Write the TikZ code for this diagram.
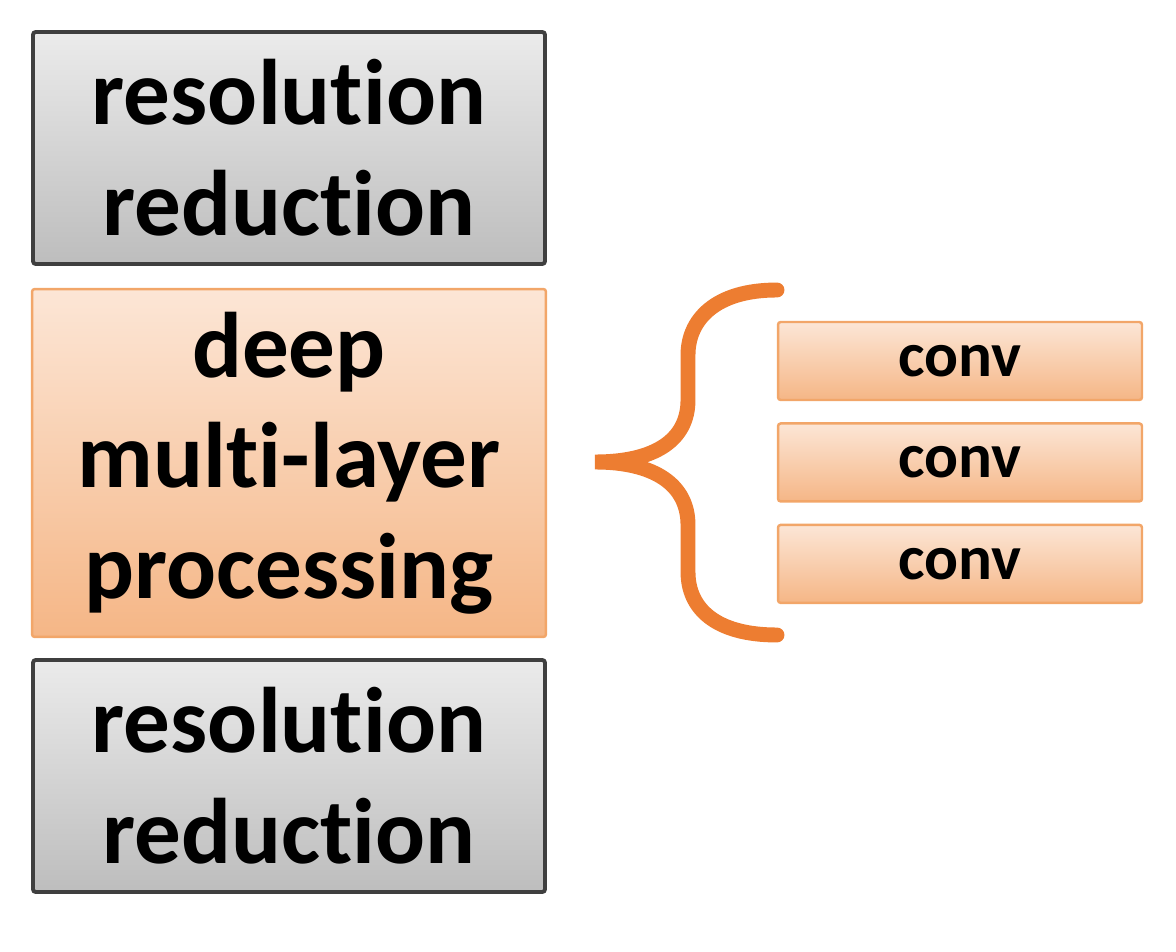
\documentclass[tikz,border=0pt]{standalone}
\usepackage{fontspec}
\setmainfont[Ligatures=NoCommon]{Carlito}
\usetikzlibrary{positioning}
\definecolor{greyedge}{HTML}{3F3F3F}
\definecolor{greytop}{HTML}{EBEBEB}
\definecolor{greybot}{HTML}{BDBDBD}
\definecolor{orangeedge}{HTML}{F2A669}
\definecolor{orangetop}{HTML}{FCE6D6}
\definecolor{orangebot}{HTML}{F5B686}
\definecolor{bracecol}{HTML}{ED7D31}
\begin{document}
\begin{tikzpicture}[x=0.02cm,y=-0.02cm,
    greybox/.style={draw=greyedge,line width=2.2pt,rounded corners=1.5pt,
      top color=greytop,bottom color=greybot,minimum width=10.24cm,
      minimum height=4.64cm,align=center,font=\fontsize{53}{63}\selectfont\bfseries},
    orangebox/.style={draw=orangeedge,line width=1.4pt,rounded corners=1.5pt,
      top color=orangetop,bottom color=orangebot,align=center},
    bigbox/.style={orangebox,minimum width=10.28cm,minimum height=6.96cm,
      font=\fontsize{53}{63}\selectfont\bfseries},
    convbox/.style={orangebox,minimum width=7.28cm,minimum height=1.56cm,
      font=\fontsize{36}{40}\selectfont\bfseries}]
  \useasboundingbox (0,0) rectangle (1176,952);
  % left column
  \node[greybox] (top) at (289,148) {resolution\\reduction};
  \node[bigbox] (deep) at (289,463) {deep\\multi-layer\\processing};
  \node[greybox] (bottom) at (289,776) {resolution\\reduction};
  % conv layers
  \node[convbox] (conv1) at (960,361) {conv};
  \node[convbox,below=0.42cm of conv1] (conv2) {conv};
  \node[convbox,below=0.42cm of conv2] (conv3) {conv};
  % brace
  \draw[bracecol,line width=8.5pt,line cap=round]
    (777,290) .. controls (715,290) and (688,320) .. (688,355) -- (688,400)
    .. controls (688,440) and (655,462) .. (595,462)
    .. controls (655,462) and (688,485) .. (688,525) -- (688,572)
    .. controls (688,608) and (715,635) .. (777,635);
\end{tikzpicture}
\end{document}
